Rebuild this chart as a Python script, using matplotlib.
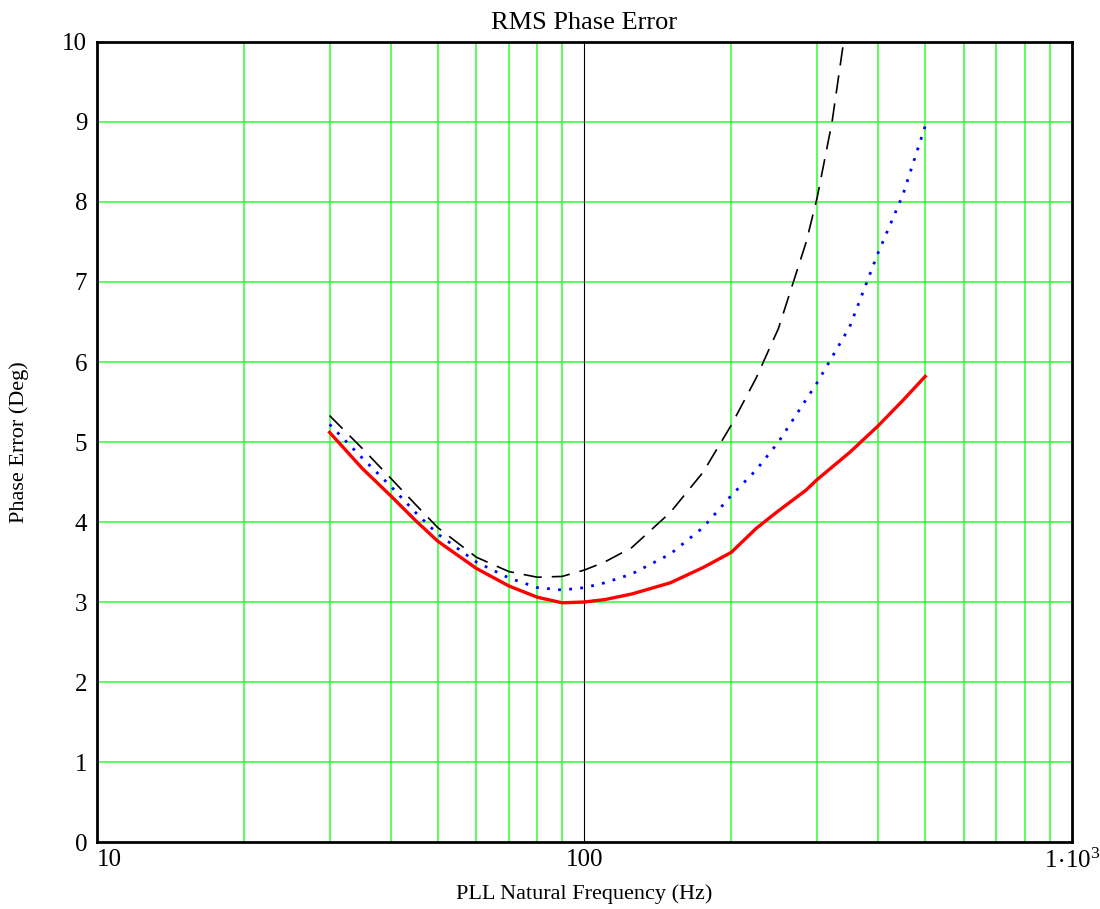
import numpy as np
import matplotlib
matplotlib.use("Agg")
import matplotlib.pyplot as plt

plt.rcParams['font.family'] = ['Liberation Serif', 'DejaVu Serif']
plt.rcParams['mathtext.fontset'] = 'custom'
plt.rcParams['mathtext.rm'] = 'Liberation Serif'

# red solid curve
f_red = [30, 35, 40, 45, 50, 60, 70, 80, 90, 100, 110, 125, 150, 175, 200,
         225, 250, 285, 300, 350, 400, 450, 500]
err_red = [5.12, 4.67, 4.33, 4.02, 3.76, 3.42, 3.20, 3.06, 2.99, 3.00, 3.03,
           3.10, 3.24, 3.43, 3.62, 3.92, 4.14, 4.40, 4.53, 4.87, 5.20, 5.52, 5.82]

# blue dotted curve
f_blue = [30, 35, 40, 45, 50, 60, 70, 80, 90, 100, 110, 125, 150, 175, 200,
          225, 250, 300, 350, 400, 450, 500]
err_blue = [5.22, 4.80, 4.45, 4.12, 3.85, 3.50, 3.30, 3.18, 3.15, 3.18, 3.24,
            3.35, 3.60, 3.93, 4.33, 4.65, 5.00, 5.74, 6.44, 7.36, 8.09, 8.95]

# black dashed curve
f_black = [30, 35, 40, 45, 50, 60, 70, 80, 90, 100, 110, 125, 150, 175, 200,
           225, 250, 285, 300, 322, 340, 350]
err_black = [5.33, 4.92, 4.55, 4.22, 3.93, 3.56, 3.38, 3.31, 3.32, 3.40, 3.50,
             3.68, 4.12, 4.62, 5.21, 5.80, 6.42, 7.50, 8.05, 9.00, 10.0, 10.5]

fig = plt.figure(figsize=(11, 9.09), dpi=100)
ax = fig.add_axes([0.0882, 0.0737, 0.8863, 0.8801])

green = '#3cff3c'
minor_x = [20, 30, 40, 50, 60, 70, 80, 90, 200, 300, 400, 500, 600, 700, 800, 900]
for xv in minor_x:
    ax.axvline(xv, color=green, lw=1.2, zorder=1)
for yv in range(1, 10):
    ax.axhline(yv, color=green, lw=1.2, zorder=1)
ax.axvline(100, color='black', lw=0.8, zorder=1)

ax.plot(f_red, err_red, color='red', lw=2.4, zorder=3)
ax.plot(f_blue, err_blue, color='blue', lw=2.0, linestyle=(0, (1, 3.0)), zorder=3)
ax.plot(f_black, err_black, color='black', lw=1.2, linestyle=(0, (11, 6)), zorder=3)

ax.set_xscale('log')
ax.set_xlim(10, 1000)
ax.set_ylim(0, 10)

ax.set_xticks([10, 100, 1000])
ax.set_xticklabels(['10', '100', r'$\mathregular{1\!\cdot\!10^{\!\mathsf{\,}3}}$'])
ax.xaxis.set_minor_locator(matplotlib.ticker.NullLocator())
ax.set_yticks(range(0, 11))
ax.tick_params(axis='both', length=0, labelsize=18)
ax.tick_params(axis='x', pad=5)
ax.tick_params(axis='y', pad=7)
xl = ax.get_xticklabels()
xl[0].set_horizontalalignment('left')
xl[2].set_horizontalalignment('center')

for s in ax.spines.values():
    s.set_linewidth(2)
    s.set_zorder(4)

ax.set_title('RMS Phase Error', fontsize=19, pad=9)
ax.set_xlabel('PLL Natural Frequency (Hz)', fontsize=16, labelpad=8)
ax.set_ylabel('Phase Error (Deg)', fontsize=16, labelpad=24)

fig.savefig('out.png', dpi=100)
